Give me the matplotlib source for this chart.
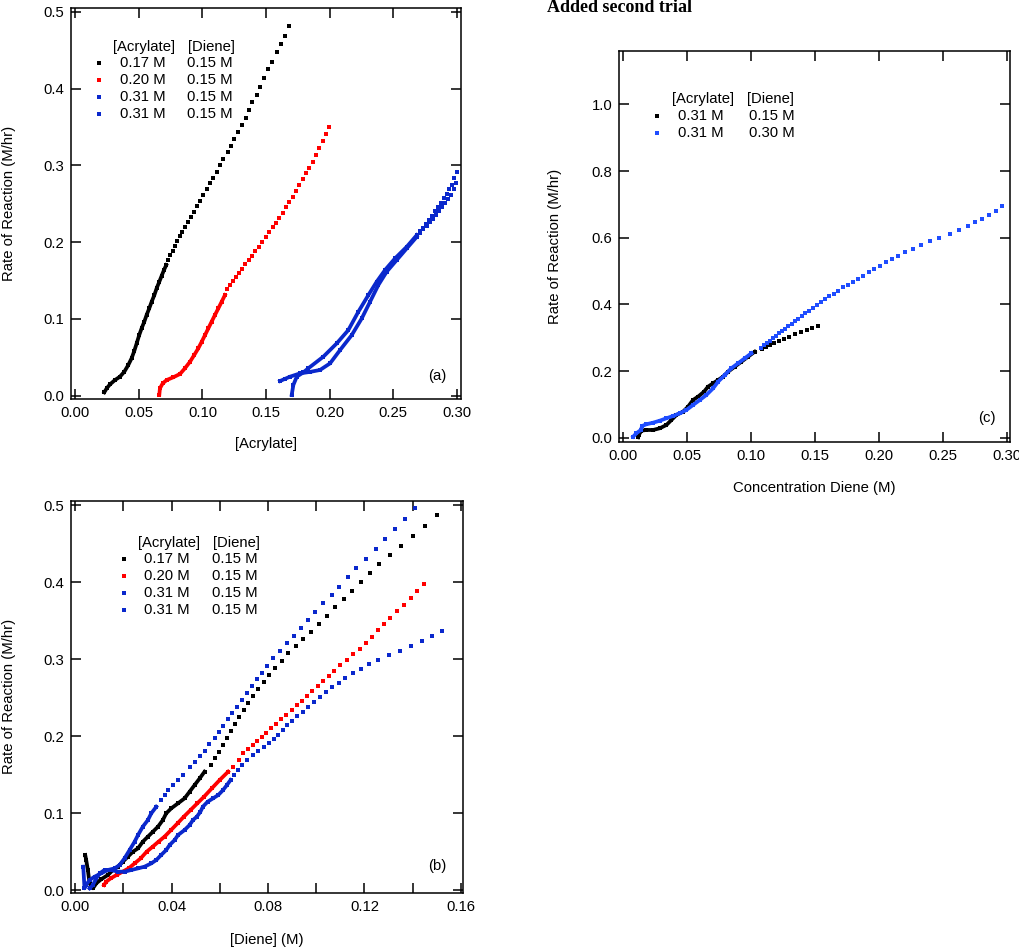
import matplotlib
matplotlib.use('Agg')
import matplotlib.pyplot as plt
from matplotlib.ticker import MultipleLocator, FormatStrFormatter

plt.rcParams['font.family'] = ['Liberation Sans', 'DejaVu Sans']

# ---- panel (a): rate vs [Acrylate] ----
a_black_x = [0.0227, 0.0246, 0.0272, 0.0311, 0.0350, 0.0385, 0.0416, 0.0442, 0.0463, 0.0482, 0.0502,
             0.0521, 0.0542, 0.0560, 0.0581, 0.0600, 0.0621, 0.0639, 0.0660, 0.0679, 0.0697, 0.0715,
             0.0731, 0.0747, 0.0765, 0.0783, 0.0802, 0.0823, 0.0841, 0.0862, 0.0883, 0.0907, 0.0933,
             0.0954, 0.0980, 0.1006, 0.1033, 0.1059, 0.1085, 0.1112, 0.1138, 0.1164, 0.1198, 0.1224,
             0.1250, 0.1282, 0.1309, 0.1340, 0.1366, 0.1392, 0.1427, 0.1456, 0.1487, 0.1513, 0.1545,
             0.1584, 0.1616, 0.1650, 0.1684]
a_black_y = [0.0044, 0.0096, 0.0148, 0.0204, 0.0247, 0.0313, 0.0400, 0.0487, 0.0582, 0.0682, 0.0790,
             0.0878, 0.0964, 0.1050, 0.1138, 0.1224, 0.1310, 0.1398, 0.1484, 0.1563, 0.1637, 0.1702,
             0.1763, 0.1828, 0.1888, 0.1953, 0.2014, 0.2075, 0.2135, 0.2200, 0.2266, 0.2330, 0.2396,
             0.2470, 0.2539, 0.2613, 0.2691, 0.2766, 0.2839, 0.2917, 0.3004, 0.3080, 0.3170, 0.3255,
             0.3342, 0.3438, 0.3525, 0.3620, 0.3720, 0.3820, 0.3915, 0.4023, 0.4133, 0.4254, 0.4350,
             0.4470, 0.4576, 0.4690, 0.4814]

a_red_x = [0.0660, 0.0665, 0.0687, 0.0718, 0.0770, 0.0823, 0.0862, 0.0902, 0.0935, 0.0967, 0.0994,
           0.1020, 0.1046, 0.1072, 0.1098, 0.1125, 0.1151, 0.1177, 0.1195, 0.1217, 0.1238, 0.1261,
           0.1285, 0.1311, 0.1337, 0.1364, 0.1390, 0.1416, 0.1443, 0.1471, 0.1498, 0.1526, 0.1553,
           0.1579, 0.1605, 0.1631, 0.1657, 0.1684, 0.1710, 0.1736, 0.1762, 0.1789, 0.1815, 0.1841,
           0.1868, 0.1894, 0.1920, 0.1946, 0.1972, 0.1999]
a_red_y = [0.0009, 0.0096, 0.0161, 0.0204, 0.0240, 0.0283, 0.0357, 0.0443, 0.0530, 0.0617, 0.0703,
           0.0790, 0.0877, 0.0964, 0.1051, 0.1138, 0.1224, 0.1311, 0.1385, 0.1441, 0.1493, 0.1549,
           0.1602, 0.1654, 0.1711, 0.1767, 0.1823, 0.1884, 0.1940, 0.2001, 0.2063, 0.2128, 0.2193,
           0.2253, 0.2318, 0.2383, 0.2453, 0.2522, 0.2591, 0.2661, 0.2740, 0.2818, 0.2896, 0.2969,
           0.3047, 0.3134, 0.3221, 0.3320, 0.3408, 0.3495]

a_blue1_x = [0.1610, 0.1650, 0.1689, 0.1768, 0.1846, 0.1925, 0.2004, 0.2083, 0.2175, 0.2254, 0.2319,
             0.2384, 0.2450, 0.2529, 0.2608, 0.2687, 0.2712, 0.2738, 0.2764, 0.2790, 0.2815, 0.2840,
             0.2864, 0.2888, 0.2911, 0.2933, 0.2955, 0.2976, 0.2998]
a_blue1_y = [0.0191, 0.0220, 0.0248, 0.0291, 0.0310, 0.0335, 0.0421, 0.0595, 0.0790, 0.1008, 0.1224,
             0.1441, 0.1615, 0.1767, 0.1919, 0.2070, 0.2120, 0.2165, 0.2210, 0.2258, 0.2306, 0.2355,
             0.2405, 0.2457, 0.2510, 0.2565, 0.2620, 0.2690, 0.2775]

a_blue2_x = [0.1702, 0.1715, 0.1742, 0.1794, 0.1833, 0.1951, 0.2057, 0.2148, 0.2227, 0.2306, 0.2371,
             0.2437, 0.2516, 0.2608, 0.2687, 0.2712, 0.2737, 0.2762, 0.2786, 0.2810, 0.2833, 0.2856,
             0.2878, 0.2900, 0.2921, 0.2942, 0.2962, 0.2982, 0.3002]
a_blue2_y = [0.0009, 0.0139, 0.0248, 0.0304, 0.0357, 0.0508, 0.0682, 0.0855, 0.1094, 0.1311, 0.1484,
             0.1637, 0.1789, 0.1940, 0.2092, 0.2140, 0.2190, 0.2240, 0.2292, 0.2345, 0.2400, 0.2455,
             0.2512, 0.2570, 0.2628, 0.2688, 0.2750, 0.2830, 0.2909]

# ---- panel (b): rate vs [Diene] ----
b_black_x = [0.0042, 0.0046, 0.0053, 0.0060, 0.0074, 0.0088, 0.0108, 0.0136, 0.0157, 0.0178, 0.0198,
             0.0219, 0.0240, 0.0261, 0.0281, 0.0302, 0.0323, 0.0344, 0.0364, 0.0378, 0.0399, 0.0427,
             0.0454, 0.0475, 0.0496, 0.0517, 0.0537, 0.0565, 0.0580, 0.0595, 0.0612, 0.0629, 0.0645,
             0.0663, 0.0681, 0.0699, 0.0718, 0.0739, 0.0760, 0.0782, 0.0805, 0.0830, 0.0857, 0.0884,
             0.0915, 0.0945, 0.0978, 0.1010, 0.1044, 0.1078, 0.1114, 0.1150, 0.1185, 0.1222, 0.1261,
             0.1305, 0.1352, 0.1400, 0.1452, 0.1503]
b_black_y = [0.0455, 0.0390, 0.0260, 0.0087, 0.0022, 0.0087, 0.0139, 0.0195, 0.0260, 0.0303, 0.0368,
             0.0433, 0.0498, 0.0541, 0.0628, 0.0693, 0.0758, 0.0823, 0.0909, 0.0996, 0.1061, 0.1126,
             0.1190, 0.1277, 0.1364, 0.1450, 0.1537, 0.1623, 0.1710, 0.1796, 0.1887, 0.1978, 0.2069,
             0.2160, 0.2251, 0.2342, 0.2433, 0.2524, 0.2615, 0.2706, 0.2797, 0.2887, 0.2978, 0.3074,
             0.3165, 0.3260, 0.3355, 0.3459, 0.3563, 0.3671, 0.3775, 0.3887, 0.4000, 0.4113, 0.4234,
             0.4351, 0.4472, 0.4601, 0.4731, 0.4866]

b_red_x = [0.0120, 0.0129, 0.0148, 0.0172, 0.0197, 0.0222, 0.0247, 0.0272, 0.0297, 0.0322, 0.0346,
           0.0371, 0.0398, 0.0425, 0.0451, 0.0479, 0.0507, 0.0535, 0.0567, 0.0600, 0.0635, 0.0655,
           0.0678, 0.0698, 0.0718, 0.0737, 0.0756, 0.0774, 0.0792, 0.0814, 0.0833, 0.0854, 0.0875,
           0.0898, 0.0919, 0.0940, 0.0961, 0.0984, 0.1006, 0.1030, 0.1052, 0.1074, 0.1099, 0.1127,
           0.1154, 0.1182, 0.1207, 0.1232, 0.1256, 0.1280, 0.1308, 0.1335, 0.1364, 0.1392, 0.1420,
           0.1447]
b_red_y = [0.0065, 0.0108, 0.0152, 0.0195, 0.0238, 0.0281, 0.0346, 0.0411, 0.0498, 0.0563, 0.0628,
           0.0693, 0.0779, 0.0866, 0.0952, 0.1039, 0.1126, 0.1212, 0.1320, 0.1429, 0.1537, 0.1600,
           0.1690, 0.1775, 0.1827, 0.1883, 0.1939, 0.1991, 0.2043, 0.2100, 0.2156, 0.2216, 0.2273,
           0.2338, 0.2398, 0.2459, 0.2519, 0.2584, 0.2649, 0.2714, 0.2779, 0.2848, 0.2918, 0.2987,
           0.3065, 0.3134, 0.3212, 0.3290, 0.3372, 0.3450, 0.3532, 0.3619, 0.3705, 0.3796, 0.3887,
           0.3974]

b_blue1_x = [0.0034, 0.0039, 0.0046, 0.0060, 0.0081, 0.0108, 0.0136, 0.0164, 0.0185, 0.0205, 0.0226,
             0.0247, 0.0261, 0.0281, 0.0302, 0.0316, 0.0337, 0.0357, 0.0371, 0.0385, 0.0406, 0.0427,
             0.0448, 0.0476, 0.0497, 0.0518, 0.0539, 0.0556, 0.0580, 0.0598, 0.0615, 0.0635, 0.0652,
             0.0670, 0.0691, 0.0712, 0.0732, 0.0753, 0.0774, 0.0795, 0.0822, 0.0850, 0.0878, 0.0908,
             0.0937, 0.0967, 0.0995, 0.1030, 0.1064, 0.1095, 0.1131, 0.1165, 0.1205, 0.1247, 0.1286,
             0.1327, 0.1369, 0.1410]
b_blue1_y = [0.0303, 0.0022, 0.0065, 0.0130, 0.0173, 0.0216, 0.0260, 0.0281, 0.0325, 0.0411, 0.0519,
             0.0628, 0.0714, 0.0823, 0.0909, 0.0996, 0.1082, 0.1169, 0.1234, 0.1299, 0.1364, 0.1429,
             0.1494, 0.1602, 0.1667, 0.1740, 0.1810, 0.1892, 0.1970, 0.2048, 0.2130, 0.2216, 0.2294,
             0.2381, 0.2468, 0.2554, 0.2649, 0.2736, 0.2822, 0.2913, 0.3009, 0.3108, 0.3204, 0.3303,
             0.3407, 0.3506, 0.3615, 0.3723, 0.3831, 0.3939, 0.4061, 0.4177, 0.4299, 0.4424, 0.4554,
             0.4684, 0.4818, 0.4957]

b_blue2_x = [0.0060, 0.0074, 0.0088, 0.0102, 0.0122, 0.0150, 0.0178, 0.0205, 0.0233, 0.0261, 0.0288,
             0.0316, 0.0337, 0.0357, 0.0378, 0.0392, 0.0413, 0.0427, 0.0454, 0.0475, 0.0489, 0.0505,
             0.0520, 0.0530, 0.0550, 0.0572, 0.0594, 0.0614, 0.0630, 0.0645, 0.0660, 0.0676, 0.0694,
             0.0714, 0.0737, 0.0760, 0.0784, 0.0805, 0.0825, 0.0843, 0.0861, 0.0880, 0.0901, 0.0922,
             0.0944, 0.0967, 0.0992, 0.1016, 0.1041, 0.1066, 0.1093, 0.1121, 0.1152, 0.1185, 0.1219,
             0.1258, 0.1303, 0.1349, 0.1393, 0.1438, 0.1482, 0.1521]
b_blue2_y = [0.0022, 0.0065, 0.0152, 0.0216, 0.0260, 0.0260, 0.0238, 0.0238, 0.0260, 0.0281, 0.0303,
             0.0346, 0.0390, 0.0455, 0.0519, 0.0584, 0.0649, 0.0714, 0.0779, 0.0844, 0.0909, 0.0952,
             0.1017, 0.1082, 0.1147, 0.1190, 0.1234, 0.1299, 0.1364, 0.1429, 0.1494, 0.1558, 0.1620,
             0.1685, 0.1748, 0.1805, 0.1857, 0.1905, 0.1957, 0.2013, 0.2078, 0.2143, 0.2199, 0.2260,
             0.2316, 0.2381, 0.2446, 0.2511, 0.2571, 0.2632, 0.2693, 0.2753, 0.2814, 0.2870, 0.2931,
             0.2987, 0.3048, 0.3108, 0.3173, 0.3234, 0.3299, 0.3364]

# ---- panel (c): second trial, rate vs diene concentration ----
c_black_x = [0.0120, 0.0125, 0.0145, 0.0184, 0.0237, 0.0289, 0.0341, 0.0380, 0.0419, 0.0471, 0.0510,
             0.0549, 0.0588, 0.0635, 0.0666, 0.0706, 0.0745, 0.0784, 0.0823, 0.0875, 0.0927, 0.0979,
             0.1031, 0.1088, 0.1120, 0.1151, 0.1184, 0.1221, 0.1260, 0.1302, 0.1346, 0.1393, 0.1438,
             0.1481, 0.1523]
c_black_y = [0.0012, 0.0081, 0.0210, 0.0231, 0.0231, 0.0282, 0.0381, 0.0531, 0.0681, 0.0780, 0.0930,
             0.1131, 0.1230, 0.1380, 0.1530, 0.1632, 0.1731, 0.1830, 0.1980, 0.2130, 0.2280, 0.2430,
             0.2580, 0.2670, 0.2730, 0.2781, 0.2841, 0.2901, 0.2961, 0.3030, 0.3102, 0.3162, 0.3231,
             0.3300, 0.3360]

c_blue_x = [0.0081, 0.0106, 0.0141, 0.0151, 0.0184, 0.0237, 0.0289, 0.0341, 0.0393, 0.0445, 0.0497,
            0.0549, 0.0602, 0.0653, 0.0706, 0.0745, 0.0797, 0.0848, 0.0901, 0.0953, 0.1005, 0.1081,
            0.1104, 0.1125, 0.1148, 0.1172, 0.1195, 0.1219, 0.1245, 0.1268, 0.1294, 0.1320, 0.1344,
            0.1372, 0.1398, 0.1427, 0.1456, 0.1487, 0.1518, 0.1549, 0.1583, 0.1614, 0.1648, 0.1682,
            0.1719, 0.1758, 0.1797, 0.1838, 0.1880, 0.1922, 0.1966, 0.2010, 0.2055, 0.2104, 0.2153,
            0.2208, 0.2268, 0.2331, 0.2401, 0.2473, 0.2555, 0.2630, 0.2698, 0.2755, 0.2809, 0.2864,
            0.2914, 0.2961]
c_blue_y = [0.0030, 0.0132, 0.0231, 0.0351, 0.0402, 0.0450, 0.0510, 0.0582, 0.0651, 0.0732, 0.0831,
            0.0981, 0.1131, 0.1281, 0.1482, 0.1680, 0.1881, 0.2082, 0.2232, 0.2382, 0.2532, 0.2700,
            0.2772, 0.2832, 0.2910, 0.2982, 0.3051, 0.3132, 0.3201, 0.3270, 0.3351, 0.3420, 0.3501,
            0.3570, 0.3651, 0.3732, 0.3810, 0.3891, 0.3972, 0.4062, 0.4152, 0.4242, 0.4320, 0.4410,
            0.4512, 0.4590, 0.4680, 0.4770, 0.4860, 0.4962, 0.5061, 0.5160, 0.5262, 0.5361, 0.5461,
            0.5571, 0.5671, 0.5791, 0.5892, 0.6001, 0.6121, 0.6231, 0.6351, 0.6462, 0.6571, 0.6691,
            0.6811, 0.6952]

key_ab_acrylate = ['0.17 M', '0.20 M', '0.31 M', '0.31 M']
key_ab_diene = ['0.15 M', '0.15 M', '0.15 M', '0.15 M']
key_c_acrylate = ['0.31 M', '0.31 M']
key_c_diene = ['0.15 M', '0.30 M']

BLACK = '#000000'
RED = '#ff0000'
BLUE = '#0a28cc'
BLUE_C = '#1f4dff'
FS = 10.7


def draw_series(ax, x, y, color, n_line):
    # early part of each run is so dense that the squares merge into a thick line
    ax.plot(x[:n_line], y[:n_line], '-', color=color, lw=2.7, solid_capstyle='projecting',
            solid_joinstyle='round')
    ax.plot(x, y, 's', color=color, ms=2.3, mew=0)


def style_axes(ax, xlim, ylim, xmaj, ymaj, xfmt, yfmt, xmin=None):
    ax.set_xlim(*xlim)
    ax.set_ylim(*ylim)
    ax.xaxis.set_major_locator(MultipleLocator(xmaj))
    ax.yaxis.set_major_locator(MultipleLocator(ymaj))
    ax.xaxis.set_major_formatter(FormatStrFormatter(xfmt))
    ax.yaxis.set_major_formatter(FormatStrFormatter(yfmt))
    if xmin:
        ax.xaxis.set_minor_locator(MultipleLocator(xmin))
    ax.tick_params(which='both', direction='in', top=True, right=True, length=7.5, width=1.1,
                   labelsize=FS, pad=5)
    for s in ax.spines.values():
        s.set_linewidth(1.1)


def draw_key(ax, acr, dien, colors, xm, xa, xd, xha, xhd, yh, ys, dy):
    ax.text(xha, yh, '[Acrylate]', transform=ax.transAxes, fontsize=FS, va='center')
    ax.text(xhd, yh, '[Diene]', transform=ax.transAxes, fontsize=FS, va='center')
    for i, (a, d, c) in enumerate(zip(acr, dien, colors)):
        yy = ys - i * dy
        ax.plot([xm], [yy], 's', color=c, ms=2.3, mew=0, transform=ax.transAxes)
        ax.text(xa, yy, a, transform=ax.transAxes, fontsize=FS, va='center')
        ax.text(xd, yy, d, transform=ax.transAxes, fontsize=FS, va='center')


fig = plt.figure(figsize=(10.2, 9.48), dpi=100)

# (a)
ax_a = fig.add_axes([0.0696, 0.5791, 0.3824, 0.4124])
draw_series(ax_a, a_black_x, a_black_y, BLACK, 22)
draw_series(ax_a, a_red_x, a_red_y, RED, 18)
draw_series(ax_a, a_blue1_x, a_blue1_y, BLUE, 16)
draw_series(ax_a, a_blue2_x, a_blue2_y, BLUE, 15)
style_axes(ax_a, (-0.0035, 0.3035), (-0.0043, 0.5048), 0.05, 0.1, '%.2f', '%.1f')
ax_a.set_xlabel('[Acrylate]', fontsize=FS)
ax_a.set_ylabel('Rate of Reaction (M/hr)', fontsize=FS)
ax_a.xaxis.set_label_coords(0.5, -0.097)
ax_a.yaxis.set_label_coords(-0.141, 0.5)
draw_key(ax_a, key_ab_acrylate, key_ab_diene, [BLACK, RED, BLUE, BLUE],
         0.072, 0.1256, 0.297, 0.1077, 0.300, 0.900, 0.859, 0.0435)
ax_a.text(0.938, 0.059, '(a)', transform=ax_a.transAxes, fontsize=FS, ha='center', va='center')

# (b)
ax_b = fig.add_axes([0.0696, 0.0580, 0.3843, 0.4138])
draw_series(ax_b, b_black_x, b_black_y, BLACK, 27)
draw_series(ax_b, b_red_x, b_red_y, RED, 21)
draw_series(ax_b, b_blue1_x, b_blue1_y, BLUE, 17)
draw_series(ax_b, b_blue2_x, b_blue2_y, BLUE, 30)
style_axes(ax_b, (-0.0017, 0.1609), (-0.0039, 0.5056), 0.04, 0.1, '%.2f', '%.1f', xmin=0.02)
ax_b.set_xlabel('[Diene] (M)', fontsize=FS)
ax_b.set_ylabel('Rate of Reaction (M/hr)', fontsize=FS)
ax_b.xaxis.set_label_coords(0.5, -0.102)
ax_b.yaxis.set_label_coords(-0.141, 0.5)
draw_key(ax_b, key_ab_acrylate, key_ab_diene, [BLACK, RED, BLUE, BLUE],
         0.135, 0.186, 0.360, 0.171, 0.362, 0.892, 0.851, 0.0435)
ax_b.text(0.934, 0.069, '(b)', transform=ax_b.transAxes, fontsize=FS, ha='center', va='center')

# (c)
ax_c = fig.add_axes([0.6072, 0.5341, 0.3830, 0.4124])
draw_series(ax_c, c_black_x, c_black_y, BLACK, 23)
draw_series(ax_c, c_blue_x, c_blue_y, BLUE_C, 21)
style_axes(ax_c, (-0.0027, 0.3026), (-0.012, 1.161), 0.05, 0.2, '%.2f', '%.1f')
ax_c.set_xlabel('Concentration Diene (M)', fontsize=FS)
ax_c.set_ylabel('Rate of Reaction (M/hr)', fontsize=FS)
ax_c.xaxis.set_label_coords(0.5, -0.100)
ax_c.yaxis.set_label_coords(-0.148, 0.5)
draw_key(ax_c, key_c_acrylate, key_c_diene, [BLACK, BLUE_C],
         0.0965, 0.150, 0.332, 0.135, 0.326, 0.876, 0.833, 0.0435)
ax_c.text(0.941, 0.061, '(c)', transform=ax_c.transAxes, fontsize=FS, ha='center', va='center')

fig.text(0.536, 0.9926, 'Added second trial', family='Liberation Serif', weight='bold',
         fontsize=13, ha='left', va='center')

fig.savefig('out.png', dpi=100)
